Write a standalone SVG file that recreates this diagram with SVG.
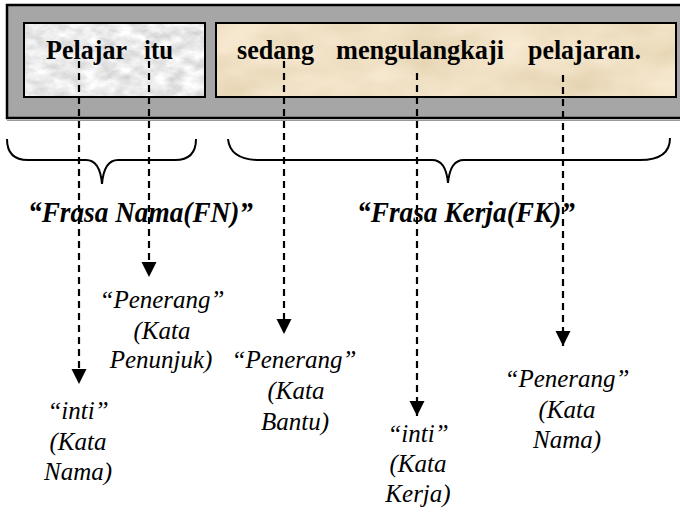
<svg xmlns="http://www.w3.org/2000/svg" width="680" height="517" viewBox="0 0 680 517">
  <defs>
    <filter id="marble" x="0" y="0" width="100%" height="100%" color-interpolation-filters="sRGB">
      <feTurbulence type="fractalNoise" baseFrequency="0.06 0.1" numOctaves="4" seed="7"/>
      <feColorMatrix type="matrix" values="0.3 0 0 0 0.77  0.3 0 0 0 0.77  0.3 0 0 0 0.77  0 0 0 0 1"/>
    </filter>
    <filter id="parchment" x="0" y="0" width="100%" height="100%" color-interpolation-filters="sRGB">
      <feTurbulence type="fractalNoise" baseFrequency="0.015 0.03" numOctaves="3" seed="11"/>
      <feColorMatrix type="matrix" values="0.1 0 0 0 0.89  0.12 0 0 0 0.82  0.18 0 0 0 0.68  0 0 0 0 1"/>
    </filter>
    <marker id="arrow" markerUnits="userSpaceOnUse" markerWidth="16" markerHeight="16" viewBox="0 -8 16 16" refX="15" refY="0" orient="auto">
      <path d="M0,-7.5 L15,0 L0,7.5 Z" fill="#000"/>
    </marker>
    <style>
      text { font-family: 'Liberation Serif', 'DejaVu Serif', serif; fill: #000; }
      .word { font-weight: bold; font-size: 27px; }
      .phrase { font-weight: bold; font-style: italic; font-size: 29px; }
      .label { font-style: italic; font-size: 25px; text-anchor: middle; }
      .box { fill: none; stroke: #000; stroke-width: 2; }
      .brace { fill: none; stroke: #000; stroke-width: 2; }
      .conn { stroke: #000; stroke-width: 2.2; stroke-dasharray: 7 5; fill: none; marker-end: url(#arrow); }
    </style>
  </defs>

  <rect x="0" y="0" width="680" height="517" fill="#fff"/>

  <g id="sentence-frame">
    <line x1="7" y1="120.5" x2="680" y2="120.5" stroke="#999" stroke-width="1"/>
    <rect x="7" y="5" width="690" height="113" fill="#a6a6a6" stroke="#000" stroke-width="2.5"/>
  </g>

  <g id="node-fn">
    <rect x="24" y="23" width="181" height="74" filter="url(#marble)"/>
    <rect class="box" x="24" y="23" width="181" height="74"/>
    <text class="word" x="46" y="59" textLength="81" lengthAdjust="spacingAndGlyphs">Pelajar</text>
    <text class="word" x="144" y="59" textLength="29" lengthAdjust="spacingAndGlyphs">itu</text>
  </g>

  <g id="node-fk">
    <rect x="216" y="23" width="460" height="74" filter="url(#parchment)"/>
    <rect class="box" x="216" y="23" width="460" height="74"/>
    <text class="word" x="237" y="59" textLength="77" lengthAdjust="spacingAndGlyphs">sedang</text>
    <text class="word" x="336" y="59" textLength="168" lengthAdjust="spacingAndGlyphs">mengulangkaji</text>
    <text class="word" x="528" y="59" textLength="113" lengthAdjust="spacingAndGlyphs">pelajaran.</text>
  </g>

  <g id="brace-fn">
    <path class="brace" d="M7,139 Q7,160 28,160 L86,160 Q100,160 102,184 Q104,160 118,160 L175,160 Q196,160 196,139"/>
    <text class="phrase" x="28" y="222" textLength="225" lengthAdjust="spacingAndGlyphs">“Frasa  Nama(FN)”</text>
  </g>

  <g id="brace-fk">
    <path class="brace" d="M228,139 Q230,160 260,160 L432,160 Q446,160 448,183 Q450,160 464,160 L640,160 Q670,160 670,138"/>
    <text class="phrase" x="357" y="222" textLength="218" lengthAdjust="spacingAndGlyphs">“Frasa  Kerja(FK)”</text>
  </g>

  <g id="connectors">
    <line class="conn" x1="79" y1="61" x2="79" y2="384"/>
    <line class="conn" x1="149" y1="61" x2="149" y2="277"/>
    <line class="conn" x1="284" y1="61" x2="284" y2="334"/>
    <line class="conn" x1="417" y1="73" x2="417" y2="416"/>
    <line class="conn" x1="563" y1="75" x2="563" y2="346"/>
  </g>

  <g id="label-inti-nama">
    <text class="label" x="78" y="419">“inti”</text>
    <text class="label" x="78" y="450">(Kata</text>
    <text class="label" x="78" y="480">Nama)</text>
  </g>

  <g id="label-penerang-penunjuk">
    <text class="label" x="162" y="308">“Penerang”</text>
    <text class="label" x="162" y="339">(Kata</text>
    <text class="label" x="161" y="368">Penunjuk)</text>
  </g>

  <g id="label-penerang-bantu">
    <text class="label" x="294" y="368">“Penerang”</text>
    <text class="label" x="296" y="399">(Kata</text>
    <text class="label" x="295" y="430">Bantu)</text>
  </g>

  <g id="label-inti-kerja">
    <text class="label" x="418" y="442">“inti”</text>
    <text class="label" x="418" y="472">(Kata</text>
    <text class="label" x="418" y="502">Kerja)</text>
  </g>

  <g id="label-penerang-nama">
    <text class="label" x="567" y="387">“Penerang”</text>
    <text class="label" x="567" y="418">(Kata</text>
    <text class="label" x="567" y="448">Nama)</text>
  </g>
</svg>
